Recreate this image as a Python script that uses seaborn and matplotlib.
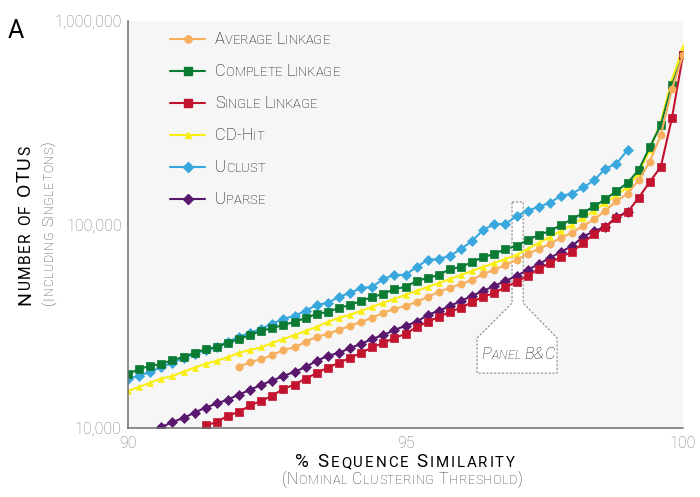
import numpy as np
import matplotlib
matplotlib.use("Agg")
import matplotlib.pyplot as plt
import seaborn as sns
from matplotlib.font_manager import FontProperties
from matplotlib.lines import Line2D
from matplotlib.patches import Polygon
from matplotlib.transforms import IdentityTransform
from matplotlib.ticker import NullLocator

# % similarity grid (0.2 steps), every series sits on it
similarity = np.round(np.arange(90, 100.001, 0.2), 1)

# number of OTUs in thousands
average_linkage = [20.0, 21.1, 21.8, 22.8, 24.2, 24.9, 26.5, 28.1, 29.0, 30.3,
                   31.8, 33.2, 34.8, 36.8, 38.5, 39.8, 41.6, 44.1, 46.7, 48.8,
                   51.0, 53.4, 57.2, 59.8, 63.3, 67.0, 71.7, 75.8, 80.3, 85.9,
                   91.0, 98.4, 106, 117, 130, 142, 165, 203, 275, 463, 681]
complete_linkage = [18.4, 19.5, 20.2, 20.6, 21.6, 22.3, 23.4, 24.4, 25.0, 26.2,
                    27.4, 28.6, 30.0, 31.0, 32.1, 33.2, 34.7, 36.3, 37.2, 38.9,
                    40.2, 42.1, 44.0, 45.6, 48.2, 49.3, 52.8, 54.6, 56.5, 60.4,
                    61.8, 65.4, 69.2, 71.6, 75.8, 78.4, 83.9, 88.8, 92.9, 99.4,
                    106, 114, 123, 133, 146, 160, 185, 240, 308, 485, 681]
single_linkage = [10.3, 10.7, 11.5,
                  12.0, 12.9, 13.6, 14.4, 15.6, 16.3, 17.5, 18.6, 19.8, 20.9,
                  22.1, 23.4, 24.9, 26.2, 27.7, 29.0, 31.4, 33.2, 35.2, 37.2,
                  39.0, 41.6, 44.1, 46.1, 49.3, 52.2, 55.9, 60.4, 64.7, 69.3,
                  73.3, 81.1, 90.0, 97.3, 108, 115, 135, 162, 192, 333, 681]
cd_hit = [15.2, 15.9, 16.7, 17.5, 18.0, 18.9, 19.8, 20.7, 21.4, 22.3,
          23.4, 24.2, 24.9, 26.2, 27.4, 28.6, 30.0, 31.4, 33.2, 34.8,
          36.0, 37.6, 39.4, 41.2, 43.1, 45.1, 47.2, 49.3, 51.6, 54.0,
          56.5, 59.1, 61.9, 64.7, 67.7, 70.9, 75.8, 81.1, 86.9, 93.0,
          99.5, 108, 117, 128, 139, 153, 179, 232, 319, 513, 745]
uclust = [17.5, 18.0, 18.9, 19.9, 20.9, 22.1, 23.1, 24.2, 24.9, 26.5,
          28.1, 29.3, 30.7, 32.5, 34.4, 35.6, 37.6, 40.3, 41.2, 44.1,
          46.1, 48.8, 49.3, 54.0, 56.5, 56.5, 61.9, 67.0, 67.7, 70.1,
          75.8, 83.0, 94.1, 100.5, 100.5, 110, 117, 122, 128, 138,
          142, 152, 165, 188, 199, 232]
uparse = [10.1, 10.7, 11.2, 11.9, 12.6, 13.2, 13.8,
          14.6, 15.4, 16.3, 17.1, 18.0, 18.9, 19.9, 21.4, 22.6, 23.4,
          24.7, 25.9, 27.4, 28.6, 30.3, 31.8, 33.2, 36.0, 37.6, 39.8,
          42.1, 44.6, 47.2, 49.9, 52.8, 55.9, 59.8, 63.9, 68.5, 73.3,
          78.5, 86.9, 93.0, 97.3, 109, 115]

# first % similarity of each series
starts = {"Average Linkage": 92.0, "Complete Linkage": 90.0, "Single Linkage": 91.4,
          "CD-Hit": 90.0, "Uclust": 90.0, "Uparse": 90.6}
values = {"Average Linkage": average_linkage, "Complete Linkage": complete_linkage,
          "Single Linkage": single_linkage, "CD-Hit": cd_hit, "Uclust": uclust,
          "Uparse": uparse}
legend_order = ["Average Linkage", "Complete Linkage", "Single Linkage",
                "CD-Hit", "Uclust", "Uparse"]

# (color, marker, markersize, zorder)
styles = {"Average Linkage": ("#F6AF5C", "o", 5.2, 2.6),
          "Complete Linkage": ("#0B7B34", "s", 5.5, 2.3),
          "Single Linkage": ("#C2132F", "s", 5.5, 2.5),
          "CD-Hit": ("#F9EE12", "^", 3.8, 2.2),
          "Uclust": ("#38A7DD", "D", 5.2, 2.1),
          "Uparse": ("#5A176E", "D", 4.9, 2.4)}

sns.set_style("white")
FONT = "Roboto"
plt.rcParams["font.family"] = [FONT, "DejaVu Sans"]

W, H = 700, 497
fig = plt.figure(figsize=(W / 100, H / 100), dpi=100)
renderer = fig.canvas.get_renderer()
ax = fig.add_axes([128 / W, 1 - 428 / H, (683 - 128) / W, (428 - 21) / H])
ax.set_facecolor("#f6f6f6")

# panel B & C callout, under the lines
box_x = [96.92, 97.12, 97.12, 97.73, 97.73, 96.29, 96.29, 96.92]
box_y = [129e3, 129e3, 41.1e3, 27.7e3, 18.6e3, 18.6e3, 27.7e3, 41.1e3]
ax.add_patch(Polygon(np.column_stack([box_x, box_y]), closed=True, facecolor="white",
                     edgecolor="#8a8a8a", linestyle=(0, (2, 1.5)), linewidth=0.8,
                     zorder=1.5))

for name in legend_order:
    color, marker, ms, z = styles[name]
    i0 = int(round((starts[name] - 90) / 0.2))
    ys = np.array(values[name]) * 1000
    xs = similarity[i0:i0 + len(ys)]
    sns.lineplot(x=xs, y=ys, color=color, marker=marker, markersize=ms, linewidth=1.5,
                 markeredgecolor=color, markeredgewidth=0.5, ax=ax, zorder=z)

ax.set_yscale("log")
ax.set_xlim(90, 100)
ax.set_ylim(1e4, 1e6)
ax.set_yticks([1e4, 1e5, 1e6])
ax.set_yticklabels(["10,000", "100,000", "1,000,000"])
ax.yaxis.set_minor_locator(NullLocator())
ax.set_xticks(range(90, 101))
ax.set_xticklabels([str(v) if v % 5 == 0 else "" for v in range(90, 101)])
ax.set_xlabel("")
ax.set_ylabel("")
for side in ["top", "right"]:
    ax.spines[side].set_visible(False)
for side in ["left", "bottom"]:
    ax.spines[side].set_color("#6e6e6e")
    ax.spines[side].set_linewidth(1.1)
ax.tick_params(axis="x", direction="in", length=7.5, width=2.2, color="#6e6e6e",
               pad=5.5, labelsize=11.5, labelcolor="#7a7a7a")
ax.tick_params(axis="y", direction="in", length=11, width=2.4, color="#6e6e6e",
               pad=4.5, labelsize=11.5, labelcolor="#7a7a7a")
for lab in ax.get_xticklabels() + ax.get_yticklabels():
    lab.set_fontweight("light")


def advance(s, prop):
    w1 = renderer.get_text_width_height_descent("l" + s + "l", prop, ismath=False)[0]
    w0 = renderer.get_text_width_height_descent("ll", prop, ismath=False)[0]
    return w1 - w0


def small_caps(text, x, y, big, small, rotation=0, align="left", color="black",
               weight="light", style="normal", tracking=0.0):
    # x, y are image pixels from the top left; y (x when rotated) is the baseline
    pieces = []
    for ch in text:
        size = small if ch.islower() else big
        prop = FontProperties(family=FONT, size=size, weight=weight, style=style)
        pieces.append((ch.upper(), prop, advance(ch.upper(), prop) + tracking))
    total = sum(p[2] for p in pieces) - tracking
    pos = -{"left": 0, "center": total / 2, "right": total}[align]
    for s, prop, a in pieces:
        if s != " ":
            if rotation == 0:
                tx, ty = x + pos, H - y
            else:
                tx, ty = x, H - y + pos
            fig.text(tx, ty, s, fontproperties=prop, color=color, rotation=rotation,
                     rotation_mode="anchor", ha="left", va="baseline",
                     transform=IdentityTransform())
        pos += a


# legend
for i, name in enumerate(legend_order):
    color, marker, ms, z = styles[name]
    base = 44 + 32 * i
    fig.add_artist(Line2D([170, 187.5, 205], [H - base + 5] * 3, transform=IdentityTransform(),
                          color=color, linewidth=1.5, marker=marker, markevery=[1],
                          markersize=ms, markeredgecolor=color))
    small_caps(name, 215, base, 11.8, 9.4, color="black")

# axis titles
small_caps("% Sequence Similarity", 405, 467, 13.5, 10.8, align="center",
           color="black", weight="normal", tracking=1.9)
small_caps("(Nominal Clustering Threshold)", 402, 484, 11.5, 9.2, align="center",
           color="#383838", tracking=0.5)
small_caps("Number of OTUs", 30, 225, 14, 11.2, rotation=90, align="center",
           color="black", weight="normal", tracking=1.4)
small_caps("(Including Singletons)", 53, 223, 11, 8.8, rotation=90, align="center",
           color="#383838", tracking=0.6)
small_caps("Panel B&C", 518, 359, 12, 9, align="center", color="#1e1e1e", style="italic")

fig.text(8, H - 38, "A", fontsize=18, color="black", transform=IdentityTransform())

fig.savefig("out.png", dpi=100)
